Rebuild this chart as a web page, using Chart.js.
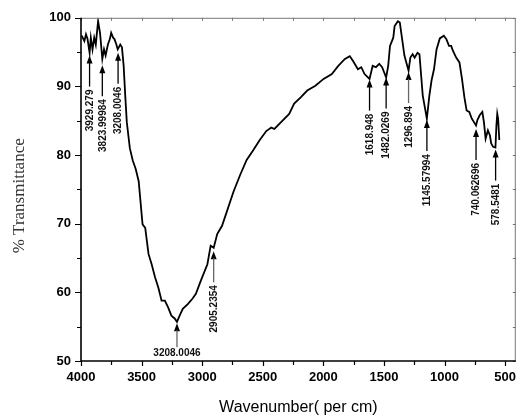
<!DOCTYPE html>
<html>
<head>
<meta charset="utf-8">
<script src="https://cdn.jsdelivr.net/npm/chart.js@4/dist/chart.umd.min.js"></script>
<style>
  html, body { margin: 0; padding: 0; background: #fff; }
  #wrap { width: 525px; height: 419px; }
</style>
</head>
<body>
<div id="wrap"><canvas id="c" width="525" height="419"></canvas></div>
<script>
// ---- data ----
const wavenumber = [
  3994, 3972, 3959, 3946, 3929, 3919, 3905, 3891, 3878, 3859, 3843, 3824, 3810, 3797, 3778, 3762,
  3751, 3735, 3724, 3708, 3697, 3676, 3662, 3648, 3635, 3622, 3597, 3573, 3549, 3524, 3492, 3470,
  3443, 3417, 3389, 3362, 3335, 3308, 3281, 3254, 3227, 3208, 3186, 3160, 3119, 3079, 3052, 3011,
  2957, 2930, 2905, 2876, 2836, 2796, 2741, 2687, 2633, 2579, 2525, 2471, 2430, 2404, 2349, 2282,
  2241, 2187, 2133, 2066, 1998, 1930, 1877, 1822, 1782, 1755, 1715, 1687, 1660, 1619, 1593, 1566,
  1539, 1515, 1482, 1465, 1450, 1423, 1412, 1385, 1369, 1350, 1331, 1297, 1282, 1263, 1247, 1223,
  1207, 1180, 1146, 1125, 1107, 1087, 1066, 1039, 1006, 985, 963, 945, 931, 904, 877, 856,
  836, 818, 796, 775, 740, 729, 710, 688, 675, 661, 642, 626, 615, 599, 580, 572,
  565, 558, 548
];
const transmittance = [
  97.4, 96.6, 97.6, 96.9, 94.9, 97.1, 95.4, 97.1, 96.1, 99.5, 97.8, 94.0, 95.4, 94.5, 96.1, 96.9,
  97.8, 97.1, 96.9, 96.1, 95.4, 96.1, 95.7, 93.0, 88.7, 84.8, 81.0, 79.2, 78.0, 76.2, 69.9, 69.4,
  65.6, 64.1, 62.2, 60.7, 58.8, 58.8, 57.8, 56.6, 56.2, 55.7, 56.6, 57.6, 58.3, 59.1, 59.8, 61.7,
  64.1, 66.8, 66.5, 68.5, 69.7, 71.8, 74.7, 77.1, 79.3, 80.7, 82.2, 83.5, 84.0, 83.8, 84.8, 86.0,
  87.5, 88.4, 89.4, 90.1, 91.1, 91.8, 93.0, 94.0, 94.4, 93.7, 92.5, 92.8, 91.8, 91.1, 93.0, 92.8,
  93.3, 92.8, 91.3, 93.0, 95.9, 97.1, 98.8, 99.5, 99.3, 96.9, 94.5, 92.3, 94.2, 94.7, 94.2, 94.9,
  94.7, 88.7, 85.3, 88.7, 90.9, 92.5, 95.4, 97.0, 97.4, 96.9, 95.9, 95.9, 95.2, 94.2, 93.5, 91.1,
  88.4, 86.5, 86.3, 85.3, 84.3, 85.1, 85.8, 86.3, 84.8, 82.4, 83.6, 82.9, 81.7, 81.2, 81.1, 84.3,
  86.0, 85.3, 82.2
];
// peak annotations: position (wavenumber), text, and the transmittance at the arrow tip
const peakWn     = [3929.279, 3823.99984, 3694, 3208.0046, 2905.2354, 1618.948, 1482.0269, 1296.894, 1145.57994, 740.062696, 578.5481];
const peakLabels = ['3929.279', '3823.99984', '3208.0046', '3208.0046', '2905.2354', '1618.948', '1482.0269', '1296.894', '1145.57994', '740.062696', '578.5481'];
const peakTipT   = [94.5, 93.1, 94.9, 55.5, 66.0, 91.0, 91.3, 92.1, 85.1, 83.8, 80.8];
const xTickStep = 250;
const yTickStep = 5;

// ---- styles for annotations ----
const horizontalLabel = new Set([3]);
const grayArrow = new Set([3, 4, 7]);

const framePlugin = {
  id: 'frame',
  afterDraw(chart) {
    const {ctx, chartArea: a, scales: {x, y}} = chart;
    ctx.save();
    // ticks
    ctx.strokeStyle = '#000';
    ctx.lineWidth = 1.2;
    ctx.beginPath();
    x.ticks.forEach(t => {
      const px = Math.round(x.getPixelForValue(t.value)) + 0.5;
      const major = t.value % 500 === 0;
      ctx.moveTo(px, a.bottom); ctx.lineTo(px, a.bottom + (major ? 5 : 4));
    });
    y.ticks.forEach(t => {
      const py = Math.round(y.getPixelForValue(t.value)) + 0.5;
      const major = t.value % 10 === 0;
      ctx.moveTo(a.left, py); ctx.lineTo(a.left - (major ? 6 : 4), py);
    });
    ctx.stroke();
    ctx.strokeStyle = '#777';
    ctx.lineWidth = 1;
    ctx.beginPath();
    x.ticks.forEach(t => {
      const px = Math.round(x.getPixelForValue(t.value)) + 0.5;
      ctx.moveTo(px, a.top); ctx.lineTo(px, a.top + 3);
    });
    y.ticks.forEach(t => {
      const py = Math.round(y.getPixelForValue(t.value)) + 0.5;
      ctx.moveTo(a.right, py); ctx.lineTo(a.right - 3, py);
    });
    ctx.stroke();
    // frame
    ctx.strokeStyle = '#777';
    ctx.lineWidth = 1;
    ctx.beginPath();
    ctx.moveTo(a.left, a.top + 0.5); ctx.lineTo(a.right - 0.5, a.top + 0.5); ctx.lineTo(a.right - 0.5, a.bottom);
    ctx.stroke();
    ctx.strokeStyle = '#000';
    ctx.lineWidth = 1.6;
    ctx.beginPath();
    ctx.moveTo(a.left, a.top); ctx.lineTo(a.left, a.bottom); ctx.lineTo(a.right, a.bottom);
    ctx.stroke();

    // annotations
    const lineLen = 31, headLen = 8, headHalf = 3, gap = 3;
    ctx.font = 'bold 10px "Liberation Sans", Arial, sans-serif';
    peakWn.forEach((wn, i) => {
      const px = x.getPixelForValue(wn);
      const tip = y.getPixelForValue(peakTipT[i]);
      const col = grayArrow.has(i) ? '#666' : '#000';
      ctx.fillStyle = '#000';
      ctx.beginPath();
      ctx.moveTo(px, tip); ctx.lineTo(px - headHalf, tip + headLen); ctx.lineTo(px + headHalf, tip + headLen);
      ctx.closePath(); ctx.fill();
      ctx.strokeStyle = col; ctx.lineWidth = 1.3;
      ctx.beginPath();
      ctx.moveTo(px, tip + headLen - 1);
      ctx.lineTo(px, tip + lineLen - (horizontalLabel.has(i) ? 7 : 0));
      ctx.stroke();
      ctx.fillStyle = '#111';
      if (horizontalLabel.has(i)) {
        ctx.textAlign = 'center'; ctx.textBaseline = 'top';
        ctx.fillText(peakLabels[i], px, tip + lineLen - 6);
      } else {
        ctx.save();
        ctx.translate(px, tip + lineLen + gap);
        ctx.rotate(-Math.PI / 2);
        ctx.textAlign = 'right'; ctx.textBaseline = 'middle';
        ctx.fillText(peakLabels[i], 0, 0.5);
        ctx.restore();
      }
    });
    ctx.restore();
  }
};

const points = wavenumber.map((w, i) => ({x: w, y: transmittance[i]}));

new Chart(document.getElementById('c'), {
  type: 'line',
  data: {
    datasets: [{
      data: points,
      borderColor: '#000',
      borderWidth: 1.8,
      pointRadius: 0,
      tension: 0,
      fill: false
    }]
  },
  options: {
    responsive: false,
    animation: false,
    layout: {padding: {top: 15, right: 1, left: 0, bottom: 0}},
    plugins: {legend: {display: false}, tooltip: {enabled: false}},
    scales: {
      x: {
        type: 'linear',
        reverse: true,
        min: 412,
        max: 4000,
        afterFit(s) { s.height = 58; },
        grid: {display: true, drawOnChartArea: false, drawTicks: false},
        border: {display: false},
        ticks: {
          stepSize: xTickStep,
          includeBounds: false,
          autoSkip: false,
          maxRotation: 0,
          padding: 9,
          color: '#000',
          font: {family: '"Liberation Sans", Arial, sans-serif', size: 13, weight: 'bold'},
          callback: v => (v % 500 === 0 ? String(v) : '')
        },
        title: {
          display: true,
          text: 'Wavenumber( per cm)',
          color: '#000',
          padding: {top: 0, bottom: 2},
          font: {family: '"Liberation Sans", Arial, sans-serif', size: 16, weight: 'normal'}
        }
      },
      y: {
        min: 50,
        max: 100,
        afterFit(s) { s.width = 81; },
        grid: {display: true, drawOnChartArea: false, drawTicks: false},
        border: {display: false},
        ticks: {
          stepSize: yTickStep,
          autoSkip: false,
          padding: 10,
          color: '#000',
          font: {family: '"Liberation Sans", Arial, sans-serif', size: 13, weight: 'bold'},
          callback: v => (v % 10 === 0 ? String(v) : '')
        },
        title: {
          display: true,
          text: '% Transmittance   ',
          color: '#333',
          padding: {top: 9, bottom: 0},
          font: {family: '"Liberation Serif", "Times New Roman", serif', size: 17, weight: 'normal'}
        }
      }
    }
  },
  plugins: [framePlugin]
});
</script>
</body>
</html>
